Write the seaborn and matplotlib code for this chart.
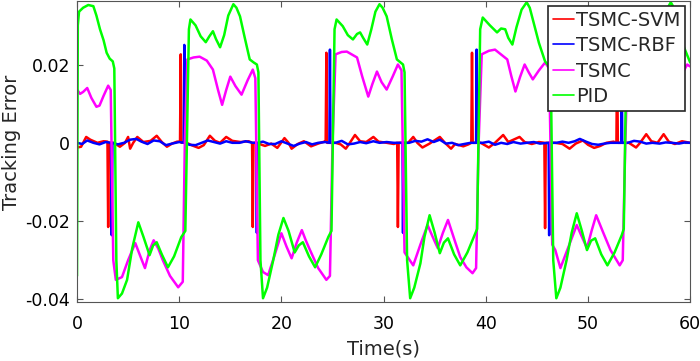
import matplotlib
matplotlib.use("Agg")
import seaborn as sns
from matplotlib import pyplot as plt

# TSMC-SVM tracking error (time in s, error)
svm_t = [0.0, 0.4, 0.9, 1.3, 2.0, 2.6, 2.98, 3.05, 3.12, 3.6, 4.2, 4.7, 5.0, 5.2, 5.5, 5.9, 6.5,
         7.2, 7.8, 8.3, 8.8, 9.3, 9.8, 10.08, 10.15, 10.22, 10.5, 11.2, 11.9, 12.4, 13.0, 13.5,
         14.0, 14.6, 15.2, 16.0, 16.8, 17.13, 17.2, 17.27, 17.5, 18.4, 19.0, 19.6, 20.3, 20.7,
         21.0, 21.6, 22.2, 22.9, 23.6, 24.2, 24.33, 24.4, 24.47, 25.3, 25.8, 26.3, 26.7, 27.2,
         27.7, 28.3, 29.0, 29.5, 30.3, 31.0, 31.33, 31.4, 31.47, 32.4, 32.9, 33.3, 33.8, 34.5,
         35.5, 36.0, 36.6, 37.0, 37.8, 38.3, 38.58, 38.65, 38.72, 39.5, 40.3, 40.9, 41.7, 42.2,
         43.3, 43.8, 44.5, 45.2, 45.73, 45.8, 45.87, 46.8, 47.5, 48.2, 48.8, 49.5, 50.0, 50.6,
         51.2, 51.8, 52.5, 52.78, 52.85, 52.92, 54.0, 54.7, 55.1, 55.7, 56.2, 56.8, 57.4, 57.9,
         58.5, 59.2, 60.0]
svm_e = [-0.0012, -0.0010, 0.0015, 0.0008, 0.0, 0.0004, 0.0003, -0.0215, 0.0, 0.0, -0.0010, 0.0,
         0.0015, -0.0015, 0.0, 0.0015, 0.0002, 0.0005, 0.0018, 0.0002, -0.0010, -0.0002, 0.0003,
         0.0003, 0.0226, 0.0, 0.0003, -0.0006, -0.0013, -0.0006, 0.0018, 0.0005, 0.0, 0.0015,
         0.0005, 0.0002, 0.0004, 0.0, -0.0215, 0.0, 0.0, -0.0008, -0.0002, -0.0013, 0.0012, 0.0,
         -0.0015, -0.0003, 0.0004, -0.0009, -0.0002, 0.0003, 0.0003, 0.0230, 0.0, 0.0, -0.0004,
         -0.0015, 0.0, 0.0020, 0.0004, 0.0002, 0.0015, 0.0003, 0.0, -0.0003, 0.0, -0.0215, 0.0,
         0.0, 0.0015, 0.0, -0.0012, -0.0002, 0.0015, 0.0, -0.0015, -0.0003, -0.0009, -0.0004,
         0.0, 0.0230, 0.0, 0.0, -0.0012, 0.0, 0.0020, 0.0002, 0.0015, 0.0002, -0.0003, 0.0002,
         0.0, -0.0218, 0.0, 0.0, -0.0003, -0.0015, -0.0002, 0.0006, -0.0005, -0.0013, -0.0008,
         0.0, 0.0003, 0.0, 0.0230, 0.0, 0.0, -0.0012, 0.0, 0.0022, 0.0004, 0.0, 0.0022, 0.0003,
         -0.0003, 0.0004, 0.0]

# TSMC-RBF tracking error
rbf_t = [0.0, 0.5, 1.0, 1.6, 2.2, 2.8, 3.33, 3.4, 3.47, 4.0, 4.6, 5.2, 5.8, 6.3, 6.9, 7.5, 8.1,
         8.7, 9.3, 10.0, 10.45, 10.5, 10.55, 11.0, 11.6, 12.2, 12.8, 13.4, 14.0, 14.6, 15.2,
         15.9, 16.5, 17.2, 17.55, 17.6, 17.65, 18.2, 18.8, 19.4, 20.0, 20.6, 21.2, 21.8, 22.4,
         23.0, 23.6, 24.3, 24.7, 24.75, 24.8, 25.3, 25.9, 26.5, 27.1, 27.7, 28.3, 29.0, 29.6,
         30.3, 31.0, 31.85, 31.9, 31.95, 32.5, 33.1, 33.7, 34.3, 34.9, 35.5, 36.1, 36.7, 37.3,
         37.9, 38.5, 39.05, 39.1, 39.15, 39.7, 40.3, 40.9, 41.5, 42.1, 42.7, 43.4, 44.0, 44.7,
         45.3, 46.15, 46.2, 46.25, 46.9, 47.5, 48.1, 48.7, 49.2, 49.8, 50.4, 51.0, 51.6, 52.2,
         53.25, 53.3, 53.35, 53.9, 54.5, 55.1, 55.7, 56.3, 57.0, 57.6, 58.2, 58.9, 59.5, 60.0]
rbf_e = [0.0, -0.0003, 0.0006, 0.0, -0.0004, 0.0002, 0.0, -0.0236, 0.0, -0.0004, 0.0, 0.0008,
         0.0010, 0.0003, -0.0003, 0.0006, 0.0004, -0.0006, -0.0002, 0.0002, 0.0, 0.0250, 0.0,
         -0.0005, -0.0006, 0.0, 0.0006, 0.0002, -0.0002, 0.0004, 0.0, 0.0, 0.0004, 0.0, 0.0,
         -0.0230, 0.0, 0.0003, -0.0003, -0.0003, 0.0004, -0.0002, -0.0008, -0.0002, 0.0002,
         -0.0004, 0.0, 0.0002, 0.0, 0.0238, 0.0, 0.0, 0.0005, -0.0004, -0.0002, 0.0002, -0.0001,
         0.0004, 0.0, 0.0002, 0.0, 0.0, -0.0230, 0.0, 0.0, 0.0005, 0.0003, 0.0009, 0.0002,
         0.0008, -0.0002, 0.0, -0.0006, -0.0003, 0.0, 0.0, 0.0238, 0.0, 0.0, 0.0003, -0.0005,
         0.0, -0.0003, 0.0002, -0.0002, 0.0, 0.0002, -0.0002, 0.0, -0.0236, 0.0, 0.0, 0.0003,
         0.0, 0.0004, 0.0010, 0.0003, -0.0003, -0.0005, -0.0002, 0.0, 0.0, 0.0240, 0.0, 0.0,
         0.0005, 0.0003, -0.0002, 0.0, -0.0002, 0.0001, 0.0, -0.0002, 0.0001, 0.0]

# TSMC tracking error
tsmc_t = [0.0, 0.3, 0.6, 1.0, 1.4, 1.9, 2.2, 2.6, 3.05, 3.3, 3.55,
          3.8, 4.4, 5.0, 5.7, 6.2, 6.65, 7.1, 7.5, 7.95, 8.4, 9.1, 9.9, 10.35, 10.55,
          10.8, 11.4, 12.0, 12.7, 13.3, 13.8, 14.2, 14.6, 15.0, 15.5, 16.1, 16.7, 17.2, 17.45, 17.7,
          18.2, 18.7, 19.3, 20.0, 20.5, 21.0, 21.5, 22.0, 22.4, 22.8, 23.6, 24.4, 24.75, 25.0,
          25.3, 25.9, 26.4, 27.4, 27.9, 28.5, 28.9, 29.35, 29.8, 30.3, 30.9, 31.4, 31.75, 32.05,
          32.9, 33.6, 34.3, 34.8, 35.3, 35.8, 36.3, 36.9, 37.5, 38.1, 38.7, 39.05, 39.3,
          39.6, 40.3, 40.9, 42.1, 42.5, 42.9, 43.35, 43.8, 44.2, 44.6, 45.2, 45.8, 46.2, 46.5,
          46.8, 47.3, 48.1, 48.9, 49.4, 49.9, 50.35, 50.8, 51.5, 52.2, 53.1, 53.4, 53.65,
          53.9, 54.6, 55.2, 56.4, 56.8, 57.2, 57.65, 58.1, 58.5, 58.9, 59.3, 59.7, 60.0]
tsmc_e = [0.0136, 0.0125, 0.0130, 0.0140, 0.0115, 0.0092, 0.0095, 0.0120, 0.0146, 0.0135, -0.0300,
          -0.0350, -0.0343, -0.0300, -0.0256, -0.0290, -0.0320, -0.0275, -0.0249, -0.0270,
          -0.0300, -0.0340, -0.0369, -0.0355, 0.0,
          0.0213, 0.0218, 0.0220, 0.0210, 0.0187, 0.0135, 0.0097, 0.0135, 0.0169, 0.0145,
          0.0123, 0.0160, 0.0187, 0.0165, -0.0300,
          -0.0330, -0.0338, -0.0290, -0.0231, -0.0265, -0.0295, -0.0255, -0.0223, -0.0250,
          -0.0274, -0.0320, -0.0350, -0.0340, 0.0,
          0.0226, 0.0232, 0.0233, 0.0218, 0.0170, 0.0118, 0.0150, 0.0182, 0.0155, 0.0136,
          0.0170, 0.0200, 0.0185, -0.0280,
          -0.0313, -0.0260, -0.0210, -0.0240, -0.0269, -0.0230, -0.0197, -0.0245, -0.0292,
          -0.0318, -0.0333, -0.0320, 0.0,
          0.0226, 0.0235, 0.0238, 0.0213, 0.0170, 0.0131, 0.0168, 0.0200, 0.0180, 0.0162,
          0.0185, 0.0205, 0.0190, -0.0260,
          -0.0274, -0.0320, -0.0265, -0.0210, -0.0240, -0.0269, -0.0225, -0.0185, -0.0230,
          -0.0274, -0.0313, -0.0300, 0.0,
          0.0226, 0.0235, 0.0238, 0.0213, 0.0170, 0.0131, 0.0168, 0.0200, 0.0180, 0.0162,
          0.0180, 0.0200, 0.0195]

# PID tracking error
pid_t = [0.0, 0.08, 0.2, 0.6, 1.1, 1.6, 1.9, 2.25, 2.6, 2.9, 3.2, 3.5, 3.65,
         3.85, 4.0, 4.4, 4.9, 5.4, 6.0, 6.5, 7.1, 7.45, 7.8, 8.3, 8.9, 9.5, 10.2, 10.6,
         10.95, 11.1, 11.6, 12.1, 12.6, 12.95, 13.3, 13.6, 14.0, 14.4, 14.8, 15.3, 15.6, 15.95,
         16.4, 16.9, 17.3, 17.6, 17.75,
         17.95, 18.2, 18.6, 19.2, 19.7, 20.2, 20.7, 21.3, 21.7, 22.1, 22.7, 23.3, 23.9, 24.6, 24.9,
         25.2, 25.4, 26.0, 26.5, 27.0, 27.4, 27.7, 28.0, 28.4, 28.8, 29.2, 29.6, 29.9, 30.3,
         30.8, 31.3, 31.9, 32.05,
         32.3, 32.6, 33.0, 33.6, 34.0, 34.5, 35.0, 35.5, 35.9, 36.3, 36.9, 37.5, 38.2, 38.9, 39.15,
         39.45, 39.7, 40.4, 41.1, 41.5, 41.9, 42.2, 42.6, 43.0, 43.5, 44.0, 44.3, 44.6, 45.2,
         45.8, 46.35,
         46.6, 46.9, 47.3, 47.9, 48.4, 48.9, 49.4, 49.9, 50.3, 50.7, 51.3, 51.9, 52.6, 53.3, 53.5,
         53.8, 54.0, 54.7, 55.4, 55.8, 56.2, 56.5, 56.9, 57.3, 57.7, 58.1, 58.4, 58.8, 59.3, 60.0]
pid_e = [-0.0340, 0.0300, 0.0335, 0.0345, 0.0352, 0.0349, 0.0325, 0.0290, 0.0262, 0.0230,
         0.0215, 0.0208, 0.0190,
         -0.0300, -0.0397, -0.0385, -0.0350, -0.0270, -0.0203, -0.0240, -0.0287, -0.0262,
         -0.0254, -0.0285, -0.0318, -0.0290, -0.0241, -0.0225,
         0.0290, 0.0315, 0.0300, 0.0272, 0.0257, 0.0272, 0.0285, 0.0265, 0.0244, 0.0275,
         0.0325, 0.0354, 0.0345, 0.0323, 0.0270, 0.0213, 0.0205, 0.0200, 0.0180,
         -0.0300, -0.0397, -0.0370, -0.0300, -0.0235, -0.0192, -0.0225, -0.0280, -0.0262,
         -0.0254, -0.0290, -0.0318, -0.0285, -0.0240, -0.0225,
         0.0290, 0.0315, 0.0298, 0.0275, 0.0264, 0.0278, 0.0282, 0.0268, 0.0251, 0.0290,
         0.0335, 0.0354, 0.0345, 0.0323, 0.0265, 0.0213, 0.0200, 0.0180,
         -0.0300, -0.0397, -0.0370, -0.0308, -0.0240, -0.0185, -0.0230, -0.0282, -0.0255,
         -0.0244, -0.0285, -0.0313, -0.0280, -0.0236, -0.0220,
         0.0290, 0.0320, 0.0300, 0.0282, 0.0292, 0.0290, 0.0268, 0.0251, 0.0295, 0.0340,
         0.0359, 0.0345, 0.0315, 0.0255, 0.0208, 0.0190,
         -0.0300, -0.0397, -0.0370, -0.0300, -0.0230, -0.0180, -0.0225, -0.0274, -0.0250,
         -0.0244, -0.0285, -0.0313, -0.0280, -0.0236, -0.0220,
         0.0290, 0.0320, 0.0300, 0.0282, 0.0292, 0.0290, 0.0268, 0.0251, 0.0295, 0.0340,
         0.0359, 0.0345, 0.0318, 0.0250, 0.0205]

series_names = ["TSMC-SVM", "TSMC-RBF", "TSMC", "PID"]
series_colors = ["#ff0000", "#0000ff", "#ff00ff", "#00ff00"]

xtick_vals = [0, 10, 20, 30, 40, 50, 60]
ytick_vals = [-0.04, -0.02, 0, 0.02]
ytick_labels = ["-0.04", "-0.02", "0", "0.02"]

sns.set_theme(style="ticks")
plt.rcParams["font.family"] = ["DejaVu Sans"]

fig, ax = plt.subplots(figsize=(7, 3.61), dpi=100)
fig.subplots_adjust(left=0.110, right=0.986, bottom=0.163, top=0.997)

data = [(svm_t, svm_e), (rbf_t, rbf_e), (tsmc_t, tsmc_e), (pid_t, pid_e)]
for (t, e), name, col in zip(data, series_names, series_colors):
    sns.lineplot(x=t, y=e, color=col, lw=1.8, label=name, ax=ax,
                 sort=False, estimator=None)

ax.set_xlim(0, 60)
ax.set_ylim(-0.0407, 0.0362)
ax.set_xticks(xtick_vals)
ax.set_yticks(ytick_vals, ytick_labels)
ax.tick_params(direction="in", top=True, right=True, length=4, width=0.8,
               labelsize=12.5, color="#555555", labelcolor="black")
ax.tick_params(axis="x", pad=9)
ax.tick_params(axis="y", pad=5)
for sp in ax.spines.values():
    sp.set_visible(True)
    sp.set_color("#555555")
    sp.set_linewidth(0.8)

ax.set_xlabel("Time(s)", fontsize=14, labelpad=5)
ax.set_ylabel("Tracking Error", fontsize=14)
ax.yaxis.set_label_coords(-0.092, 0.53)

leg = ax.legend(loc="upper right", fontsize=14, frameon=True, fancybox=False,
                edgecolor="#262626", framealpha=1, handlelength=1.05,
                handletextpad=0.12, borderpad=0.25, labelspacing=0.33,
                borderaxespad=0.25)
leg.get_frame().set_linewidth(1.2)
for ln in leg.get_lines():
    ln.set_linewidth(1.2)

fig.savefig("out.png", dpi=100)
